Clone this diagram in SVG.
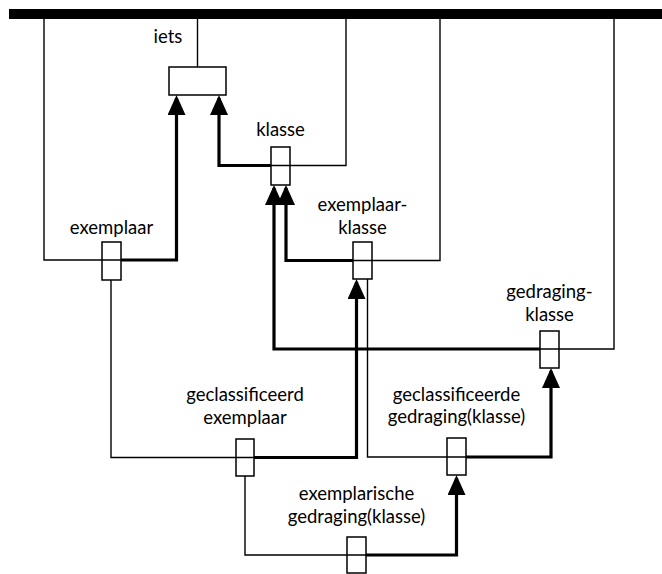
<svg xmlns="http://www.w3.org/2000/svg" width="662" height="574" viewBox="0 0 662 574">
  <style>
    .bar { fill: #000; }
    .box { fill: none; stroke: #000; stroke-width: 1.5; }
    .thin { fill: none; stroke: #000; stroke-width: 1.4; }
    .thick { fill: none; stroke: #000; stroke-width: 3.2; marker-end: url(#head); }
    .lbl { font-family: Lato, "Open Sans", sans-serif; font-size: 18.5px; fill: #000; text-anchor: middle; }
  </style>
  <defs>
    <marker id="head" markerUnits="userSpaceOnUse" markerWidth="20" markerHeight="18" refX="17" refY="9" orient="auto">
      <path d="M0,0 L20,9 L0,18 Z" fill="#000"/>
    </marker>
  </defs>
  <rect width="662" height="574" fill="#fff"/>

  <!-- top bar -->
  <rect class="bar" x="9" y="9" width="653" height="10"/>

  <!-- connectors -->
  <g id="connectors">
    <!-- thin links up to the bar and between nodes -->
    <path class="thin" d="M197.5,19 V67"/>
    <path class="thin" d="M44,19 V260 H121"/>
    <path class="thin" d="M271,165.5 H346 V19"/>
    <path class="thin" d="M353,260.5 H440 V19"/>
    <path class="thin" d="M540,349 H614 V19"/>
    <path class="thin" d="M111,280 V457.5 H254"/>
    <path class="thin" d="M367.5,279 V457 H466"/>
    <path class="thin" d="M245,476 V555 H366"/>
    <!-- thick arrows -->
    <path class="thick" d="M121,260 H176.5 V98"/>
    <path class="thick" d="M271,165.5 H219 V98"/>
    <path class="thick" d="M353,260.5 H286 V188"/>
    <path class="thick" d="M540,349 H274 V188"/>
    <path class="thick" d="M254,457.5 H356.5 V282"/>
    <path class="thick" d="M466,457 H551 V371"/>
    <path class="thick" d="M366,555 H456.5 V478"/>
  </g>

  <g id="iets">
    <rect class="box" x="169" y="67" width="57" height="28"/>
    <text class="lbl" x="168" y="43">iets</text>
  </g>
  <g id="klasse">
    <rect class="box" x="271" y="147" width="19" height="38"/>
    <text class="lbl" x="280.5" y="136">klasse</text>
  </g>
  <g id="exemplaar">
    <rect class="box" x="102" y="242" width="19" height="38"/>
    <text class="lbl" x="111.5" y="234">exemplaar</text>
  </g>
  <g id="exemplaar-klasse">
    <rect class="box" x="353" y="242" width="19" height="37"/>
    <text class="lbl" x="362.5" y="211">exemplaar-</text>
    <text class="lbl" x="362.5" y="234">klasse</text>
  </g>
  <g id="gedragingklasse">
    <rect class="box" x="540" y="331" width="19" height="37"/>
    <text class="lbl" x="549.5" y="298">gedraging-</text>
    <text class="lbl" x="549.5" y="321">klasse</text>
  </g>
  <g id="geclassificeerd-exemplaar">
    <rect class="box" x="236" y="439" width="18" height="37"/>
    <text class="lbl" x="245" y="401">geclassificeerd</text>
    <text class="lbl" x="245" y="424">exemplaar</text>
  </g>
  <g id="geclassificeerde-gedraging">
    <rect class="box" x="447" y="438" width="19" height="37"/>
    <text class="lbl" x="456.5" y="401">geclassificeerde</text>
    <text class="lbl" x="456.5" y="423">gedraging(klasse)</text>
  </g>
  <g id="exemplarische-gedraging">
    <rect class="box" x="347" y="537" width="19" height="36"/>
    <text class="lbl" x="356.5" y="500">exemplarische</text>
    <text class="lbl" x="356.5" y="523">gedraging(klasse)</text>
  </g>
</svg>
